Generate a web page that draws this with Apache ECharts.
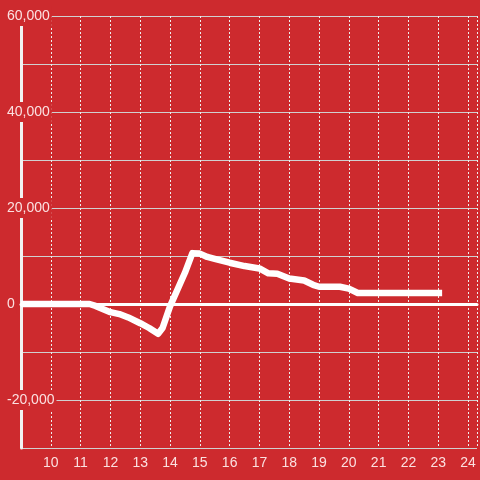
<!DOCTYPE html>
<html>
<head>
<meta charset="utf-8">
<style>
html, body { margin: 0; padding: 0; background: #cd2a2e; }
#main { width: 480px; height: 480px; }
</style>
<script src="https://cdn.jsdelivr.net/npm/echarts@6/dist/echarts.min.js"></script>
</head>
<body>
<div id="main"></div>
<script>
// hours on the x axis, values on the y axis
var hours  = [9, 11.3, 11.5, 12, 12.3, 12.6, 13, 13.3, 13.6, 13.75, 14, 14.5, 14.75, 15, 15.25, 15.5, 16, 16.5, 17, 17.3, 17.6, 18, 18.5, 18.8, 19, 19.7, 20, 20.3, 21, 22, 23.13];
var values = [0, 0, -400, -1700, -2100, -2800, -4000, -5000, -6200, -5000, -500, 6500, 10600, 10500, 9800, 9400, 8600, 7900, 7400, 6400, 6300, 5300, 4900, 4000, 3600, 3600, 3200, 2300, 2300, 2300, 2300];
var yLabels = [-20000, 0, 20000, 40000, 60000];   // labelled ticks
var xLabels = [10, 11, 12, 13, 14, 15, 16, 17, 18, 19, 20, 21, 22, 23, 24];

var bg = '#cd2a2e';
var txt = 'rgba(255,240,240,0.92)';

var myChart = echarts.init(document.getElementById('main'));
myChart.setOption({
    backgroundColor: bg,
    animation: false,
    grid: { left: 21, right: 0, top: 16, bottom: 32 },
    xAxis: {
        type: 'value',
        min: 9,
        max: 24.3,
        interval: 1,
        axisLine: { onZero: true, lineStyle: { color: '#ffffff', width: 3 } },
        axisTick: { show: false },
        axisLabel: {
            color: txt,
            fontSize: 14,
            fontFamily: 'Liberation Sans',
            margin: 8,
            formatter: function (v) {
                return xLabels.indexOf(v) >= 0 ? String(v) : '';
            }
        },
        splitLine: { show: true, lineStyle: { color: '#eeeeee', type: [2, 2], width: 1 } }
    },
    yAxis: {
        type: 'value',
        min: -30000,
        max: 60000,
        interval: 10000,
        axisLine: { show: true, lineStyle: { color: '#f2f2f2', width: 3 } },
        axisTick: { show: false },
        axisLabel: {
            color: txt,
            fontSize: 14,
            fontFamily: 'Liberation Sans',
            align: 'left',
            margin: 14,
            backgroundColor: bg,
            padding: [3, 2, 3, 0],
            formatter: function (v) {
                return yLabels.indexOf(v) >= 0 ? v.toLocaleString('en-US') : '';
            }
        },
        splitLine: { show: true, lineStyle: { color: '#d0d0d0', width: 1 } }
    },
    series: [{
        type: 'line',
        data: hours.map(function (h, i) { return [h, values[i]]; }),
        showSymbol: false,
        lineStyle: { color: '#ffffff', width: 6.5, join: 'round', cap: 'butt' },
        z: 3
    }]
});
</script>
</body>
</html>
